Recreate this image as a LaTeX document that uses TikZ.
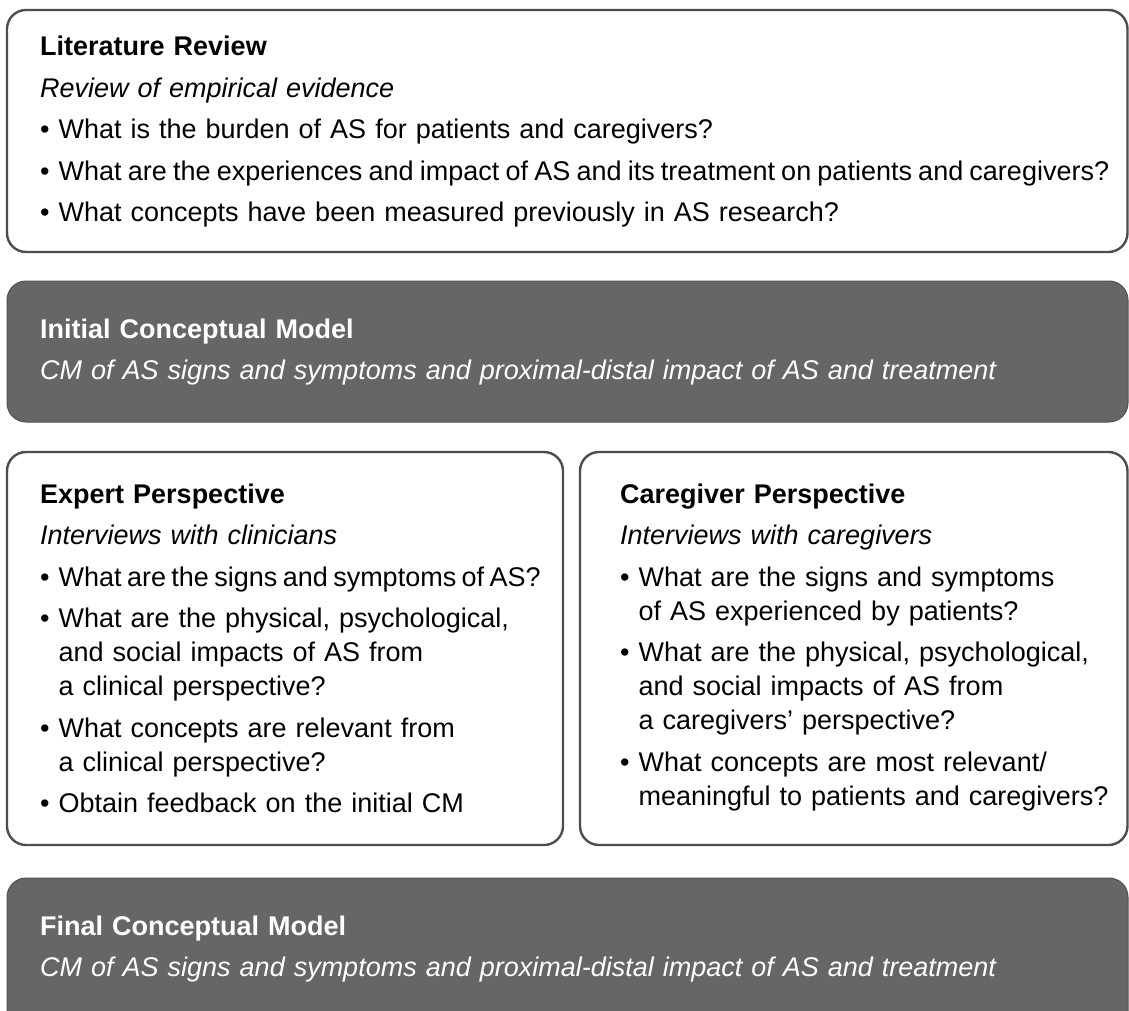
\documentclass[tikz,border=0pt]{standalone}
\usepackage{fontspec}
\setmainfont{Liberation Sans}
\usepackage{tikz}

\definecolor{edgegray}{HTML}{4D4D4D}
\definecolor{darkfill}{HTML}{666666}

\newcommand{\qitem}{\par\setbox0=\hbox{• }\hangindent=\wd0 \hangafter=1 \noindent\box0 }

\begin{document}
\begin{tikzpicture}[x=1pt,y=-1pt,
  lightbox/.style={draw=edgegray, line width=2.4pt, rounded corners=19pt, fill=white},
  darkbox/.style={draw=edgegray!80!darkfill, line width=1pt, rounded corners=19pt, fill=darkfill},
  boxtext/.style={anchor=base west, inner sep=0pt, font=\fontsize{27}{34}\selectfont,
    execute at begin node={\raggedright\parindent=0pt\parskip=7.5pt}}]
\useasboundingbox (0,0) rectangle (1129,1011);
% the five boxes
\draw[lightbox] (7,10) rectangle (1127.5,252);
\draw[darkbox] (7,281) rectangle (1128,422);
\draw[lightbox] (7,452) rectangle (563,845);
\draw[lightbox] (580,452) rectangle (1127.5,845);
\draw[darkbox] (7,878) rectangle (1128,1040);
% their texts
\node[boxtext, text width=1250pt] (litrev) at (40,56) {\textbf{Literature Review}\par
  \textit{Review of empirical evidence}
  \qitem What is the burden of AS for patients and caregivers?
  \qitem {\spaceskip=0.23em What are the experiences and impact of AS and its treatment on patients and caregivers?}
  \qitem What concepts have been measured previously in AS research?\par};
\node[boxtext, text width=1250pt, text=white] (initcm) at (40,338) {\textbf{Initial Conceptual Model}\par
  \textit{CM of AS signs and symptoms and proximal-distal impact of AS and treatment}\par};
\node[boxtext, text width=600pt] (expert) at (40,503) {\textbf{Expert Perspective}\par
  \textit{Interviews with clinicians}
  \qitem {\spaceskip=0.2em What are the signs and symptoms of AS?}
  \qitem What are the physical, psychological,\newline and social impacts of AS from\newline a clinical perspective?
  \qitem What concepts are relevant from\newline a clinical perspective?
  \qitem Obtain feedback on the initial CM\par};
\node[boxtext, text width=600pt] (carer) at (620,503) {\textbf{Caregiver Perspective}\par
  \textit{Interviews with caregivers}
  \qitem What are the signs and symptoms\newline of AS experienced by patients?
  \qitem What are the physical, psychological,\newline and social impacts of AS from\newline a caregivers’ perspective?
  \qitem What concepts are most relevant/\newline meaningful to patients and caregivers?\par};
\node[boxtext, text width=1250pt, text=white] (finalcm) at (40,935) {\textbf{Final Conceptual Model}\par
  \textit{CM of AS signs and symptoms and proximal-distal impact of AS and treatment}\par};
\end{tikzpicture}
\end{document}
